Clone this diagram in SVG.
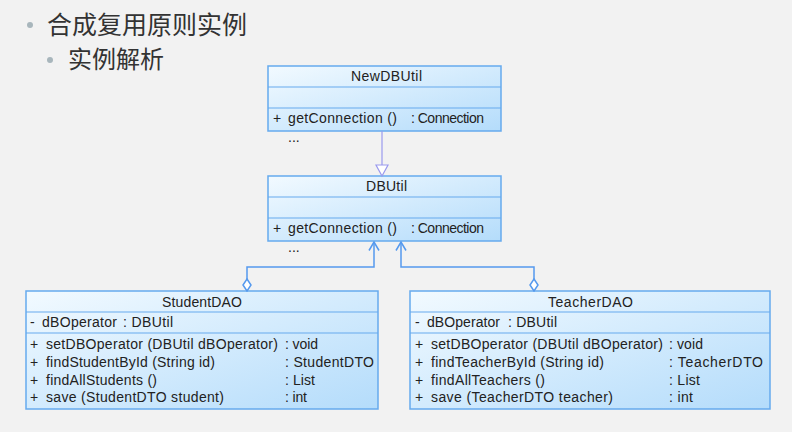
<svg xmlns="http://www.w3.org/2000/svg" width="792" height="432" viewBox="0 0 792 432">
<defs>
<linearGradient id="boxg" x1="0" y1="0" x2="1" y2="1">
<stop offset="0" stop-color="#f2faff"/>
<stop offset="1" stop-color="#b4dcfb"/>
</linearGradient>
<marker id="open" viewBox="0 0 12 12" refX="10.5" refY="6" markerWidth="12" markerHeight="12" markerUnits="userSpaceOnUse" orient="auto-start-reverse">
<path d="M2,1 L10.5,6 L2,11" fill="none" stroke="#5599ee" stroke-width="1.5"/>
</marker>
<marker id="diamond" viewBox="0 0 10 14" refX="5" refY="13" markerWidth="10" markerHeight="14" markerUnits="userSpaceOnUse" orient="0">
<path d="M5,1 L9,7 L5,13 L1,7 Z" fill="#ffffff" stroke="#5599ee" stroke-width="1.5"/>
</marker>
</defs>
<style>
.box{fill:url(#boxg);stroke:#66aaee;stroke-width:1.5}
.sep{stroke:#66aaee;stroke-width:1.2}
.t{font-family:"Liberation Sans",Arial,sans-serif;font-size:14px;fill:#222}
.h{font-family:"Liberation Sans","Noto Sans CJK SC",sans-serif;fill:#333}
.conn{fill:none;stroke:#5599ee;stroke-width:1.5}
</style>
<rect width="792" height="432" fill="#f2f2f2"/>
<g id="heading">
<circle cx="30" cy="25" r="3" fill="#a8b6bc"/>
<text class="h" x="47" y="34" font-size="25">合成复用原则实例</text>
<circle cx="50" cy="60" r="3" fill="#a8b6bc"/>
<text class="h" x="68" y="68" font-size="24">实例解析</text>
</g>
<g id="NewDBUtil">
<rect class="box" x="268" y="66" width="233" height="65"/>
<line class="sep" x1="268" y1="87" x2="501" y2="87"/>
<line class="sep" x1="268" y1="108" x2="501" y2="108"/>
<text class="t" x="351" y="81" textLength="71">NewDBUtil</text>
<text class="t" x="273" y="123">+</text>
<text class="t" x="288" y="123" textLength="109">getConnection ()</text>
<text class="t" x="411" y="123" textLength="73">: Connection</text>
<text class="t" x="288" y="142">...</text>
</g>
<g id="DBUtil">
<rect class="box" x="268" y="176" width="233" height="65"/>
<line class="sep" x1="268" y1="197" x2="501" y2="197"/>
<line class="sep" x1="268" y1="218" x2="501" y2="218"/>
<text class="t" x="366" y="191" textLength="41">DBUtil</text>
<text class="t" x="273" y="233">+</text>
<text class="t" x="288" y="233" textLength="109">getConnection ()</text>
<text class="t" x="411" y="233" textLength="73">: Connection</text>
<text class="t" x="288" y="252">...</text>
</g>
<g id="StudentDAO">
<rect class="box" x="26" y="291" width="352" height="118"/>
<line class="sep" x1="26" y1="312" x2="378" y2="312"/>
<line class="sep" x1="26" y1="333" x2="378" y2="333"/>
<text class="t" x="162" y="307" textLength="80">StudentDAO</text>
<text class="t" x="30" y="327">-</text>
<text class="t" x="42" y="327" textLength="75">dBOperator</text>
<text class="t" x="123" y="327" textLength="50">: DBUtil</text>
<text class="t" x="30" y="349">+</text>
<text class="t" x="46" y="349" textLength="232">setDBOperator (DBUtil dBOperator)</text>
<text class="t" x="285" y="349" textLength="33">: void</text>
<text class="t" x="30" y="367">+</text>
<text class="t" x="46" y="367" textLength="169">findStudentById (String id)</text>
<text class="t" x="285" y="367" textLength="89">: StudentDTO</text>
<text class="t" x="30" y="385">+</text>
<text class="t" x="46" y="385" textLength="111">findAllStudents ()</text>
<text class="t" x="285" y="385" textLength="30">: List</text>
<text class="t" x="30" y="402">+</text>
<text class="t" x="46" y="402" textLength="178">save (StudentDTO student)</text>
<text class="t" x="285" y="402" textLength="22">: int</text>
</g>
<g id="TeacherDAO">
<rect class="box" x="410" y="291" width="360" height="118"/>
<line class="sep" x1="410" y1="312" x2="770" y2="312"/>
<line class="sep" x1="410" y1="333" x2="770" y2="333"/>
<text class="t" x="548" y="307" textLength="85">TeacherDAO</text>
<text class="t" x="415" y="327">-</text>
<text class="t" x="427" y="327" textLength="73">dBOperator</text>
<text class="t" x="508" y="327" textLength="49">: DBUtil</text>
<text class="t" x="415" y="349">+</text>
<text class="t" x="431" y="349" textLength="232">setDBOperator (DBUtil dBOperator)</text>
<text class="t" x="669" y="349" textLength="34">: void</text>
<text class="t" x="415" y="367">+</text>
<text class="t" x="431" y="367" textLength="173">findTeacherById (String id)</text>
<text class="t" x="669" y="367" textLength="94">: TeacherDTO</text>
<text class="t" x="415" y="385">+</text>
<text class="t" x="431" y="385" textLength="114">findAllTeachers ()</text>
<text class="t" x="669" y="385" textLength="31">: List</text>
<text class="t" x="415" y="402">+</text>
<text class="t" x="431" y="402" textLength="182">save (TeacherDTO teacher)</text>
<text class="t" x="669" y="402" textLength="24">: int</text>
</g>
<g id="connectors">
<line x1="382" y1="131" x2="382" y2="165" stroke="#9999ee" stroke-width="1.2"/>
<path d="M376,165 L388,165 L382,176 Z" fill="#ffffff" stroke="#9999ee" stroke-width="1.2"/>
<path class="conn" d="M374,242 L374,267 L247,267 L247,291" marker-start="url(#open)" marker-end="url(#diamond)"/>
<path class="conn" d="M401,242 L401,267 L534,267 L534,291" marker-start="url(#open)" marker-end="url(#diamond)"/>
</g>
</svg>
